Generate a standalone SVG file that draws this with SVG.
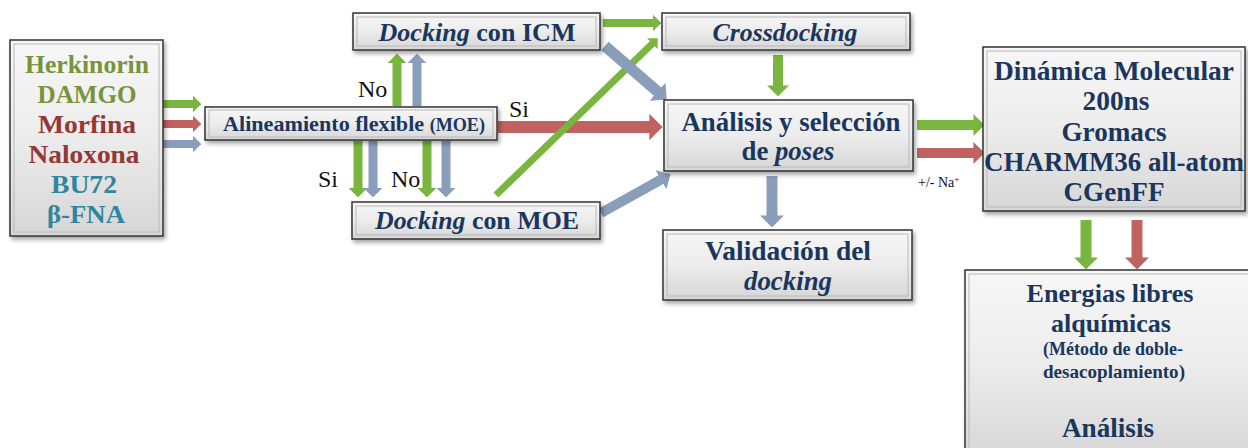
<svg xmlns="http://www.w3.org/2000/svg" width="1248" height="448" viewBox="0 0 1248 448">
<style>
.box{fill:url(#bg);stroke:#333;stroke-width:1.5;filter:url(#sh)}
.inner{fill:none;stroke:#b8b8b8;stroke-width:1}
.t{font-family:"Liberation Serif","Times New Roman",Tinos,"DejaVu Serif","Noto Serif",FreeSerif,serif;font-weight:bold;fill:#1b365d;text-anchor:middle}
.lig{font-family:"Liberation Serif","Times New Roman",Tinos,"DejaVu Serif","Noto Serif",FreeSerif,serif;font-weight:bold;font-size:26px;text-anchor:middle}
.lbl{font-family:"Liberation Serif","Times New Roman",Tinos,"DejaVu Serif","Noto Serif",FreeSerif,serif;fill:#111;font-size:24px}
.na{font-family:"Liberation Serif","Times New Roman",Tinos,"DejaVu Serif","Noto Serif",FreeSerif,serif;fill:#111;font-size:14px}
.g{stroke:#7ab540;marker-end:url(#mG)}
.r{stroke:#c0625f;marker-end:url(#mR)}
.b{stroke:#8a9dbb;marker-end:url(#mB)}
</style>
<defs>
<linearGradient id="bg" x1="0" y1="0" x2="0" y2="1">
<stop offset="0" stop-color="#f7f7f7"/><stop offset="0.5" stop-color="#ececec"/><stop offset="1" stop-color="#d6d6d6"/>
</linearGradient>
<filter id="sh" x="-10%" y="-10%" width="130%" height="140%">
<feDropShadow dx="2" dy="3" stdDeviation="2" flood-color="#000" flood-opacity="0.35"/>
</filter>
<marker id="mG" viewBox="0 0 10 20" markerUnits="strokeWidth" markerWidth="1.1" markerHeight="2.2" refX="0.5" refY="10" orient="auto"><path d="M0,0 L10,10 L0,20 z" fill="#7ab540"/></marker>
<marker id="mR" viewBox="0 0 10 20" markerUnits="strokeWidth" markerWidth="1.1" markerHeight="2.2" refX="0.5" refY="10" orient="auto"><path d="M0,0 L10,10 L0,20 z" fill="#c0625f"/></marker>
<marker id="mB" viewBox="0 0 10 20" markerUnits="strokeWidth" markerWidth="1.1" markerHeight="2.2" refX="0.5" refY="10" orient="auto"><path d="M0,0 L10,10 L0,20 z" fill="#8a9dbb"/></marker>
</defs>
<rect width="1248" height="448" fill="#fff"/>

<g id="connectors" fill="none">
<line class="g" x1="163" y1="104" x2="193" y2="104" stroke-width="8"/>
<line class="r" x1="163" y1="124" x2="193" y2="124" stroke-width="8"/>
<line class="b" x1="163" y1="144" x2="193" y2="144" stroke-width="8"/>
<line class="g" x1="397" y1="106" x2="397" y2="63" stroke-width="9"/>
<line class="b" x1="417" y1="106" x2="417" y2="63" stroke-width="9"/>
<line class="g" x1="358" y1="141" x2="358" y2="188" stroke-width="9"/>
<line class="b" x1="373" y1="141" x2="373" y2="188" stroke-width="9"/>
<line class="g" x1="427" y1="141" x2="427" y2="188" stroke-width="9"/>
<line class="b" x1="446" y1="141" x2="446" y2="188" stroke-width="9"/>
<line class="r" x1="498" y1="127" x2="650" y2="127" stroke-width="12"/>
<line class="g" x1="603" y1="23" x2="653" y2="23" stroke-width="8"/>
<line class="g" x1="496" y1="195" x2="652.5" y2="43.4" stroke-width="7"/>
<line class="b" x1="605" y1="46" x2="658" y2="92" stroke-width="11"/>
<line class="b" x1="601" y1="213" x2="661.4" y2="179.4" stroke-width="10"/>
<line class="g" x1="778" y1="55" x2="778" y2="86" stroke-width="10"/>
<line class="b" x1="772" y1="176" x2="772" y2="216" stroke-width="11"/>
<line class="g" x1="917" y1="125" x2="974" y2="125" stroke-width="10"/>
<line class="r" x1="917" y1="153" x2="974" y2="153" stroke-width="10"/>
<line class="g" x1="1086" y1="220" x2="1086" y2="258" stroke-width="11"/>
<line class="r" x1="1137" y1="220" x2="1137" y2="258" stroke-width="11"/>
<text class="lbl" x="358" y="97">No</text>
<text class="lbl" x="318" y="187">Si</text>
<text class="lbl" x="391" y="187">No</text>
<text class="lbl" x="509" y="117">Si</text>
<text class="na" x="918" y="187">+/- Na<tspan style="font-size:9px" dy="-5">+</tspan></text>
</g>

<g id="ligands">
<rect class="box" x="10" y="40" width="153" height="196"/>
<rect class="inner" x="14" y="44" width="145" height="188"/>
<text class="lig" x="87" y="73" fill="#77933c" textLength="124" lengthAdjust="spacingAndGlyphs">Herkinorin</text>
<text class="lig" x="87" y="103" fill="#77933c" textLength="99" lengthAdjust="spacingAndGlyphs">DAMGO</text>
<text class="lig" x="87" y="133" fill="#953735" textLength="98" lengthAdjust="spacingAndGlyphs">Morfina</text>
<text class="lig" x="84" y="163" fill="#953735" textLength="111" lengthAdjust="spacingAndGlyphs">Naloxona</text>
<text class="lig" x="84" y="193" fill="#31859c" textLength="66" lengthAdjust="spacingAndGlyphs">BU72</text>
<text class="lig" x="86" y="223" fill="#31859c" textLength="78" lengthAdjust="spacingAndGlyphs">β-FNA</text>
</g>

<g id="alineamiento">
<rect class="box" x="205" y="107" width="292" height="33"/>
<rect class="inner" x="209" y="110" width="284" height="27"/>
<text class="t" x="354" y="131" font-size="22" textLength="262" lengthAdjust="spacingAndGlyphs">Alineamiento flexible <tspan font-size="18">(MOE)</tspan></text>
</g>

<g id="docking-icm">
<rect class="box" x="353" y="13" width="247" height="37"/>
<rect class="inner" x="357" y="17" width="239" height="29"/>
<text class="t" x="477" y="41" font-size="26" textLength="197" lengthAdjust="spacingAndGlyphs"><tspan font-style="italic">Docking</tspan> con ICM</text>
</g>

<g id="docking-moe">
<rect class="box" x="352" y="202" width="248" height="37"/>
<rect class="inner" x="356" y="206" width="240" height="29"/>
<text class="t" x="477" y="229" font-size="26" textLength="204" lengthAdjust="spacingAndGlyphs"><tspan font-style="italic">Docking</tspan> con MOE</text>
</g>

<g id="crossdocking">
<rect class="box" x="662" y="13" width="248" height="37"/>
<rect class="inner" x="666" y="17" width="240" height="29"/>
<text class="t" x="785" y="41" font-size="26" font-style="italic" textLength="145" lengthAdjust="spacingAndGlyphs">Crossdocking</text>
</g>

<g id="analisis">
<rect class="box" x="664" y="100" width="249" height="71"/>
<rect class="inner" x="668" y="104" width="241" height="63"/>
<text class="t" x="791" y="131" font-size="27" textLength="219" lengthAdjust="spacingAndGlyphs">Análisis y selección</text>
<text class="t" x="788" y="160" font-size="27" textLength="93" lengthAdjust="spacingAndGlyphs">de <tspan font-style="italic">poses</tspan></text>
</g>

<g id="validacion">
<rect class="box" x="663" y="230" width="249" height="70"/>
<rect class="inner" x="667" y="234" width="241" height="62"/>
<text class="t" x="788" y="260" font-size="27" textLength="166" lengthAdjust="spacingAndGlyphs">Validación del</text>
<text class="t" x="788" y="290" font-size="27" font-style="italic" textLength="88" lengthAdjust="spacingAndGlyphs">docking</text>
</g>

<g id="dinamica">
<rect class="box" x="983" y="47" width="262" height="164"/>
<rect class="inner" x="987" y="51" width="254" height="156"/>
<text class="t" x="1114" y="80" font-size="27" textLength="240" lengthAdjust="spacingAndGlyphs">Dinámica Molecular</text>
<text class="t" x="1116" y="110" font-size="27" textLength="67" lengthAdjust="spacingAndGlyphs">200ns</text>
<text class="t" x="1114" y="141" font-size="27" textLength="105" lengthAdjust="spacingAndGlyphs">Gromacs</text>
<text class="t" x="1114" y="171" font-size="27" textLength="260" lengthAdjust="spacingAndGlyphs">CHARMM36 all-atom</text>
<text class="t" x="1114" y="201" font-size="27" textLength="101" lengthAdjust="spacingAndGlyphs">CGenFF</text>
</g>

<g id="energias">
<rect class="box" x="965" y="270" width="290" height="190"/>
<rect class="inner" x="969" y="274" width="290" height="190"/>
<text class="t" x="1110" y="302" font-size="26" textLength="167" lengthAdjust="spacingAndGlyphs">Energias libres</text>
<text class="t" x="1111" y="332" font-size="26" textLength="120" lengthAdjust="spacingAndGlyphs">alquímicas</text>
<text class="t" x="1113" y="355" font-size="18" textLength="140" lengthAdjust="spacingAndGlyphs">(Método de doble-</text>
<text class="t" x="1114" y="378" font-size="18" textLength="142" lengthAdjust="spacingAndGlyphs">desacoplamiento)</text>
<text class="t" x="1108" y="437" font-size="27" textLength="92" lengthAdjust="spacingAndGlyphs">Análisis</text>
</g>
</svg>
